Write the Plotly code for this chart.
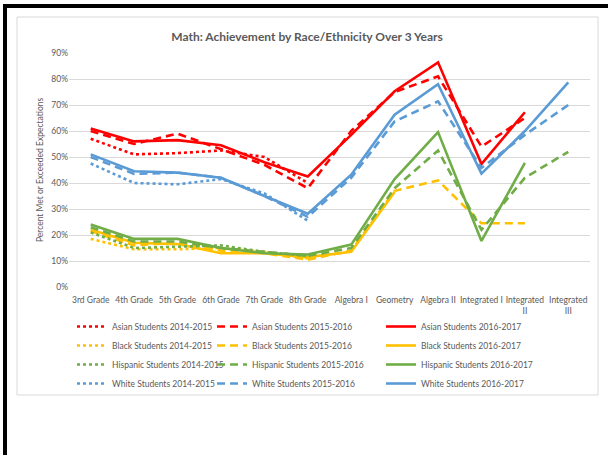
import plotly.graph_objects as go

# categories on the x axis
grades = ["3rd Grade", "4th Grade", "5th Grade", "6th Grade", "7th Grade", "8th Grade",
          "Algebra I", "Geometry", "Algebra II", "Integrated I", "Integrated<br>II", "Integrated<br>III"]

# percent met or exceeded (fractions), None = no data
asian_1415 = [0.57, 0.51, 0.515, 0.525, 0.50, 0.40, None, None, None, None, None, None]
asian_1516 = [0.60, 0.55, 0.59, 0.53, 0.47, 0.38, 0.60, 0.75, 0.81, 0.54, 0.65, None]
asian_1617 = [0.61, 0.56, 0.565, 0.545, 0.48, 0.425, 0.585, 0.753, 0.864, 0.473, 0.672, None]

black_1415 = [0.185, 0.145, 0.145, 0.15, 0.135, 0.11, None, None, None, None, None, None]
black_1516 = [0.215, 0.16, 0.17, 0.14, 0.13, 0.105, 0.14, 0.37, 0.41, 0.245, 0.245, None]
black_1617 = [0.22, 0.17, 0.165, 0.13, 0.13, 0.115, 0.135, 0.365, None, None, None, None]

hisp_1415 = [0.21, 0.15, 0.155, 0.16, 0.135, 0.12, None, None, None, None, None, None]
hisp_1516 = [0.23, 0.175, 0.175, 0.15, 0.135, 0.12, 0.15, 0.38, 0.525, 0.22, 0.42, 0.52]
hisp_1617 = [0.24, 0.185, 0.185, 0.15, 0.13, 0.125, 0.163, 0.415, 0.596, 0.177, 0.477, None]

white_1415 = [0.475, 0.40, 0.395, 0.415, 0.36, 0.255, None, None, None, None, None, None]
white_1516 = [0.50, 0.435, 0.44, 0.42, 0.35, 0.27, 0.42, 0.637, 0.714, 0.458, 0.585, 0.70]
white_1617 = [0.51, 0.445, 0.44, 0.42, 0.35, 0.282, 0.432, 0.663, 0.78, 0.436, 0.60, 0.787]

groups = [
    ("Asian Students", "#FF0000", [asian_1415, asian_1516, asian_1617]),
    ("Black Students", "#FFC000", [black_1415, black_1516, black_1617]),
    ("Hispanic Students", "#70AD47", [hisp_1415, hisp_1516, hisp_1617]),
    ("White Students", "#5B9BD5", [white_1415, white_1516, white_1617]),
]
years = ["2014-2015", "2015-2016", "2016-2017"]
dashes = ["dot", "8px,5px", "solid"]
legends = ["legend", "legend2", "legend3"]

font = "Lato, sans-serif"
grey = "#595959"

fig = go.Figure()
for name, color, series in groups:
    for i, vals in enumerate(series):
        fig.add_trace(go.Scatter(
            x=grades, y=vals, mode="lines", name=f"{name} {years[i]}",
            line=dict(color=color, width=2.6, dash=dashes[i]),
            legend=legends[i], connectgaps=False))

# layout helpers: pixel -> paper
L, R, T, B = 69, 18, 53, 168
W, H = 608, 455
pw, ph = W - L - R, H - T - B
def px(x):
    return (x - L) / pw
def py(y):
    return (H - B - y) / ph

leg = dict(orientation="v", yanchor="top", xanchor="left", bgcolor="rgba(0,0,0,0)",
           font=dict(family=font, size=8.5, color=grey), tracegroupgap=0)

fig.update_layout(
    width=W, height=H,
    margin=dict(l=L, r=R, t=T, b=B, autoexpand=False),
    paper_bgcolor="white", plot_bgcolor="white",
    font=dict(family=font, color=grey),
    title=dict(text="Math: Achievement by Race/Ethnicity Over 3 Years",
               x=307 / W, xref="container", xanchor="center",
               y=1 - 37 / H, yanchor="middle",
               font=dict(family=font, size=12, color=grey, weight="bold")),
    xaxis=dict(range=[-0.5, len(grades) - 0.5], showgrid=False, showline=False,
               tickfont=dict(size=8.5, color=grey), ticklabelstandoff=6,
               ticks="", tickangle=0, automargin=False, fixedrange=True),
    yaxis=dict(range=[0, 0.9], dtick=0.1, tickformat=".0%", gridcolor="#D9D9D9",
               gridwidth=1, zeroline=False, showline=False, automargin=False,
               tickfont=dict(size=8.5, color=grey), fixedrange=True,
               title=dict(text="Percent Met or Exceeded Expectations",
                          font=dict(size=8.5, color=grey), standoff=6)),
    legend=dict(leg, x=px(72), y=py(312)),
    legend2=dict(leg, x=px(212), y=py(312)),
    legend3=dict(leg, x=px(381), y=py(312)),
    shapes=[
        # light chart-area frame
        dict(type="rect", xref="paper", yref="paper", x0=px(17), x1=px(598),
             y0=py(395), y1=py(17), line=dict(color="#D9D9D9", width=1), layer="below"),
        # dark outer border top / left
        dict(type="line", xref="paper", yref="paper", x0=px(3), x1=px(608),
             y0=py(6), y1=py(6), line=dict(color="black", width=4)),
        dict(type="line", xref="paper", yref="paper", x0=px(5), x1=px(5),
             y0=py(4), y1=py(455), line=dict(color="black", width=4)),
    ],
)

# drop the default page margin so the figure sits at the window's corner
fig.write_html("out.html", config={"displayModeBar": False},
               post_script="document.body.style.margin='0px';")
